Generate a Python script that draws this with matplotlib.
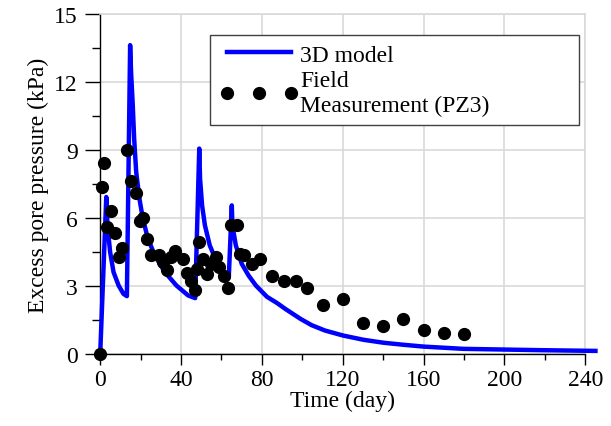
import matplotlib
matplotlib.use('Agg')
import matplotlib.pyplot as plt
from matplotlib.ticker import MultipleLocator

plt.rcParams['font.family'] = ['Liberation Serif', 'DejaVu Serif']

# 3D model curve (day, kPa)
model_day = [0, 3.0, 3.6, 4.9, 6.6, 9.1, 11.5, 13.2,
             14.8, 15.3, 16.1, 16.8, 17.8, 19.4, 21.1, 23.6, 27.0, 32.0, 37.7, 43.5, 47.0,
             49.0, 49.4, 50.4, 51.8, 54.2, 57.0, 60.0, 62.5, 63.6,
             65.1, 65.4, 67.1, 70.0, 73.4, 77.0, 82.5, 87.4, 91.5, 99.0, 104.5, 111.2,
             120.1, 130.3, 140.2, 150.1, 160.0, 169.9, 179.8, 199.6, 219.4, 245.0]
model_kpa = [0, 6.93, 5.68, 4.5, 3.61, 3.02, 2.65, 2.55,
             13.64, 12.4, 11.0, 9.5, 8.04, 6.86, 5.97, 5.09, 4.35, 3.61, 3.02, 2.58, 2.46,
             9.07, 7.74, 6.56, 5.68, 4.79, 4.20, 3.76, 3.46, 3.36,
             6.56, 5.68, 4.79, 3.98, 3.46, 3.02, 2.52, 2.25, 1.99, 1.55, 1.27, 1.03,
             0.81, 0.62, 0.49, 0.40, 0.32, 0.27, 0.22, 0.19, 0.16, 0.13]

# field measurement PZ3
field_day = [0, 1.1, 2.1, 3.3, 5.3, 7.1, 9.1, 11.0, 13.2, 15.2, 17.5, 19.5, 21.1, 23.1,
             25.1, 29.0, 31.0, 33.0, 35.1, 37.1, 41.2, 42.9, 45.0, 47.0, 47.8, 49.0,
             50.8, 52.9, 54.8, 57.2, 59.0, 61.0, 63.2, 64.7, 67.6, 69.3, 71.3, 75.0,
             79.2, 85.1, 91.0, 97.0, 102.3, 110.0, 120.1, 130.0, 139.9, 149.9, 160.0,
             169.9, 179.8]
field_kpa = [0, 7.38, 8.45, 5.61, 6.30, 5.35, 4.26, 4.68, 9.01, 7.64, 7.12, 5.85, 5.99, 5.06,
             4.38, 4.38, 4.08, 3.70, 4.26, 4.56, 4.20, 3.58, 3.24, 2.83, 3.73, 4.94,
             4.20, 3.53, 3.98, 4.28, 3.82, 3.44, 2.93, 5.71, 5.71, 4.42, 4.38, 3.95,
             4.17, 3.46, 3.20, 3.24, 2.93, 2.14, 2.43, 1.37, 1.23, 1.52, 1.06,
             0.93, 0.87]

fig = plt.figure(figsize=(6.11, 4.27), dpi=100)
ax = fig.add_axes([0.164, 0.169, 0.794, 0.795])

ax.plot(model_day, model_kpa, color='#0000ff', linewidth=3.2, label='3D model',
        clip_on=False, zorder=3)
ax.plot(field_day, field_kpa, linestyle='none', marker='o', markersize=8.5,
        color='black', label='Field\nMeasurement (PZ3)', clip_on=False, zorder=4)

ax.set_xlim(0, 240)
ax.set_ylim(0, 15)
ax.xaxis.set_major_locator(MultipleLocator(40))
ax.xaxis.set_minor_locator(MultipleLocator(20))
ax.yaxis.set_major_locator(MultipleLocator(3))
ax.yaxis.set_minor_locator(MultipleLocator(1.5))
ax.grid(True, which='major', color='#d9d9d9', linewidth=1.2)
ax.set_axisbelow(True)

for s in ['top', 'right']:
    ax.spines[s].set_color('#d9d9d9')
    ax.spines[s].set_linewidth(1.2)
for s in ['left', 'bottom']:
    ax.spines[s].set_linewidth(1.0)

ax.tick_params(axis='x', which='major', direction='out', length=8, width=1, labelsize=17, pad=3)
ax.tick_params(axis='x', which='minor', direction='out', length=4, width=1)
ax.tick_params(axis='y', which='major', direction='out', length=11, width=1, labelsize=17, pad=5)
ax.tick_params(axis='y', which='minor', direction='out', length=6, width=1)

ax.set_xlabel('Time (day)', fontsize=17, labelpad=0)
ax.set_ylabel('Excess pore pressure (kPa)', fontsize=17, labelpad=4)

leg = ax.legend(loc='upper left', bbox_to_anchor=(0.227, 0.686, 0.759, 0.254), mode='expand',
                borderaxespad=0, fontsize=17, numpoints=3, handlelength=3.3, handletextpad=0.1,
                labelspacing=0.2, borderpad=0.4, fancybox=False, framealpha=1)
leg.get_frame().set_edgecolor('#404040')
leg.get_frame().set_linewidth(1.0)

plt.savefig('out.png', dpi=100)
